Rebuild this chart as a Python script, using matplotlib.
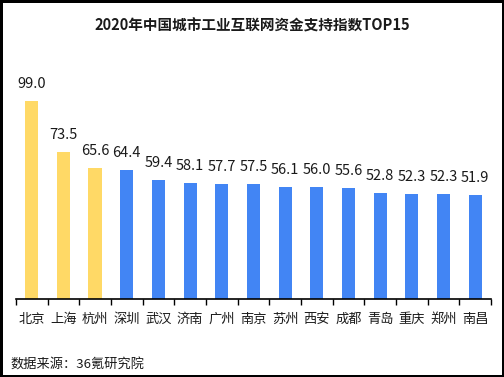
#!/usr/bin/env python3
# coding: utf-8

import matplotlib
matplotlib.use('Agg')
import matplotlib.pyplot as plt
import numpy as np

plt.rcParams['font.family'] = ['Noto Sans CJK SC', 'DejaVu Sans']

cities = ['北京', '上海', '杭州', '深圳', '武汉', '济南', '广州', '南京',
          '苏州', '西安', '成都', '青岛', '重庆', '郑州', '南昌']
values = [99.0, 73.5, 65.6, 64.4, 59.4, 58.1, 57.7, 57.5,
          56.1, 56.0, 55.6, 52.8, 52.3, 52.3, 51.9]
n_top = 3  # highlighted cities

yellow = '#FFD966'
blue = '#4285F4'

fig = plt.figure(figsize=(5.04, 3.77), dpi=100)
fig.patch.set_edgecolor('black')
fig.patch.set_linewidth(2.5)

ax = fig.add_axes([0.0317, 0.2069, 0.9425, 0.6366])

x = np.arange(len(cities))
colors = [yellow if i < n_top else blue for i in range(len(cities))]
bars = ax.bar(x, values, width=0.42, color=colors)

for xi, v in zip(x, values):
  ax.text(xi, v + 5.0, '%.1f' % v, ha='center', va='bottom', fontsize=10.5, color='#1a1a1a')

ax.set_xlim(-0.5, len(cities) - 0.5)
ax.set_ylim(0, 120)

for s in ['top', 'right', 'left']:
  ax.spines[s].set_visible(False)
ax.spines['bottom'].set_linewidth(1.2)
ax.set_yticks([])

ax.set_xticks(x)
ax.set_xticklabels(cities, fontsize=9.5, color='#1a1a1a')
ax.tick_params(axis='x', which='major', length=0, pad=10)
ax.set_xticks(np.arange(-0.5, len(cities), 1.0), minor=True)
ax.tick_params(axis='x', which='minor', length=4, width=1, direction='out')

fig.text(0.5, 0.931, '2020年中国城市工业互联网资金支持指数TOP15', ha='center', va='center',
         fontsize=10.5, fontweight='bold', color='#1a1a1a')
fig.text(0.02, 0.032, '数据来源：36氪研究院', ha='left', va='center', fontsize=9.5, color='#1a1a1a')

plt.savefig('out.png', dpi=100, edgecolor=fig.get_edgecolor())
